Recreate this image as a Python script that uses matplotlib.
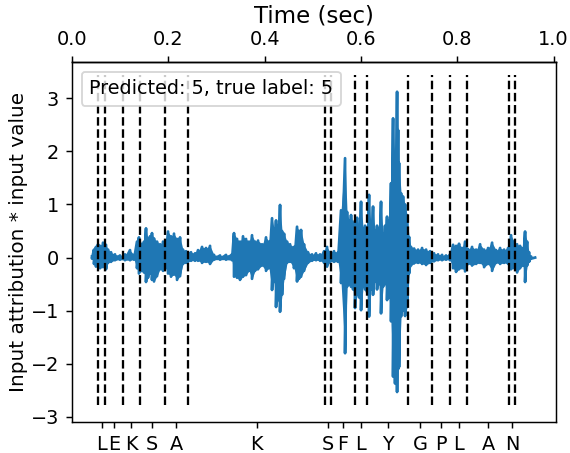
import numpy as np
import matplotlib
matplotlib.use("Agg")
import matplotlib.pyplot as plt
from matplotlib.lines import Line2D

# envelope of the attribution waveform (time in sec)
wave_t = [0.0415, 0.0457, 0.0498, 0.054, 0.0582, 0.0644, 0.0706, 0.0748, 0.081, 0.0893,
          0.0997, 0.110, 0.1205, 0.1288, 0.135, 0.139, 0.1454, 0.1495, 0.1537, 0.1578,
          0.162, 0.1661, 0.1703, 0.1765, 0.1828, 0.189, 0.1931, 0.1994, 0.2056, 0.2118,
          0.2181, 0.2243, 0.2305, 0.2368, 0.2409, 0.2471, 0.2555, 0.2617, 0.27, 0.2783,
          0.2866, 0.2949, 0.3074, 0.3198, 0.3323, 0.3364, 0.3427, 0.3489, 0.3551, 0.3614,
          0.3676, 0.3738, 0.3801, 0.3863, 0.3946, 0.4029, 0.4091, 0.4154, 0.4195, 0.4237,
          0.4278, 0.432, 0.4361, 0.4403, 0.4465, 0.4528, 0.461, 0.4673, 0.4714, 0.4756,
          0.4818, 0.4901, 0.4984, 0.5067, 0.515, 0.5234, 0.5296, 0.5358, 0.5441, 0.5524,
          0.5587, 0.567, 0.5711, 0.5753, 0.5794, 0.5836, 0.5877, 0.5919, 0.5961, 0.6002,
          0.6044, 0.6085, 0.6127, 0.6168, 0.621, 0.6251, 0.6293, 0.6334, 0.6376, 0.6417,
          0.6459, 0.65, 0.6542, 0.6584, 0.6625, 0.6667, 0.6708, 0.675, 0.6771, 0.6791,
          0.6833, 0.6874, 0.6916, 0.6957, 0.6999, 0.704, 0.7103, 0.7186, 0.7269, 0.7352,
          0.7435, 0.7518, 0.7601, 0.7684, 0.7767, 0.785, 0.7913, 0.7975, 0.8037, 0.81,
          0.8162, 0.8224, 0.8307, 0.839, 0.8474, 0.8557, 0.864, 0.8723, 0.8806, 0.8889,
          0.8972, 0.9055, 0.9117, 0.918, 0.9242, 0.9304, 0.9367, 0.9408, 0.945, 0.9491,
          0.9533, 0.9616]
wave_hi = [0.02, 0.15, 0.20, 0.25, 0.22, 0.28, 0.24, 0.15, 0.10, 0.06,
           0.04, 0.06, 0.14, 0.05, 0.30, 0.38, 0.25, 0.30, 0.55, 0.35,
           0.40, 0.46, 0.36, 0.30, 0.25, 0.30, 0.18, 0.49, 0.40, 0.45,
           0.35, 0.38, 0.15, 0.12, 0.10, 0.10, 0.08, 0.14, 0.20, 0.18,
           0.22, 0.05, 0.04, 0.05, 0.06, 0.46, 0.35, 0.30, 0.40, 0.35,
           0.30, 0.42, 0.30, 0.32, 0.25, 0.38, 0.30, 0.74, 0.55, 0.70,
           0.60, 0.99, 0.50, 0.45, 0.30, 0.25, 0.20, 0.58, 0.50, 0.52,
           0.25, 0.10, 0.06, 0.08, 0.06, 0.12, 0.20, 0.10, 0.12, 0.10,
           0.89, 1.87, 0.86, 0.70, 0.80, 0.65, 0.70, 0.75, 0.60, 1.05,
           0.55, 0.60, 0.50, 1.18, 0.55, 0.96, 0.50, 0.60, 0.55, 1.05,
           0.45, 0.60, 0.77, 0.70, 1.40, 2.62, 1.78, 3.12, 2.40, 1.78,
           1.21, 1.15, 1.00, 0.80, 0.39, 0.20, 0.17, 0.15, 0.18, 0.15,
           0.12, 0.08, 0.06, 0.05, 0.04, 0.06, 0.24, 0.22, 0.26, 0.18,
           0.30, 0.16, 0.20, 0.15, 0.25, 0.15, 0.18, 0.28, 0.14, 0.18,
           0.15, 0.18, 0.42, 0.30, 0.25, 0.22, 0.18, 0.49, 0.30, 0.10,
           0.02, 0.0]
wave_lo = [-0.02, -0.12, -0.17, -0.15, -0.20, -0.18, -0.22, -0.10, -0.08, -0.05,
           -0.04, -0.05, -0.05, -0.04, -0.20, -0.30, -0.25, -0.28, -0.46, -0.38,
           -0.30, -0.42, -0.45, -0.35, -0.22, -0.25, -0.18, -0.30, -0.36, -0.32,
           -0.42, -0.35, -0.12, -0.10, -0.08, -0.06, -0.06, -0.06, -0.10, -0.08,
           -0.12, -0.04, -0.04, -0.04, -0.05, -0.36, -0.38, -0.42, -0.36, -0.33,
           -0.25, -0.40, -0.25, -0.22, -0.15, -0.25, -0.20, -0.61, -0.45, -0.93,
           -0.80, -1.02, -0.70, -0.40, -0.10, -0.08, -0.20, -0.45, -0.40, -0.36,
           -0.25, -0.10, -0.06, -0.05, -0.06, -0.10, -0.17, -0.08, -0.08, -0.08,
           -0.48, -1.80, -0.55, -0.50, -0.55, -0.60, -0.95, -0.70, -0.75, -0.99,
           -0.55, -0.60, -0.65, -1.11, -0.60, -0.70, -0.45, -0.60, -0.50, -1.05,
           -0.55, -0.50, -0.80, -0.75, -1.20, -2.24, -2.37, -2.53, -2.10, -2.06,
           -1.11, -1.00, -1.10, -0.93, -0.30, -0.15, -0.11, -0.10, -0.12, -0.14,
           -0.10, -0.07, -0.05, -0.05, -0.04, -0.05, -0.20, -0.27, -0.22, -0.20,
           -0.26, -0.12, -0.15, -0.12, -0.10, -0.18, -0.12, -0.25, -0.10, -0.12,
           -0.10, -0.12, -0.22, -0.20, -0.28, -0.20, -0.15, -0.46, -0.15, -0.08,
           -0.02, 0.0]

# phoneme boundaries (sec) and the letters between them
bounds = [0.0546, 0.0685, 0.1053, 0.1412, 0.1925, 0.2409, 0.5254, 0.5373,
          0.5877, 0.6120, 0.6984, 0.7483, 0.7844, 0.8210, 0.9082, 0.9200]
letters = ["L", "E", "K", "S", "A", "K", "S", "F", "L", "Y", "G", "P", "L", "A", "N"]
time_ticks = [0.0, 0.2, 0.4, 0.6, 0.8, 1.0]
pred, true = 5, 5

t = np.array(wave_t)
hi = np.array(wave_hi)
lo = np.array(wave_lo)

DPI = 132
FS = 10.5
fig = plt.figure(figsize=(570 / DPI, 453 / DPI), dpi=DPI)
ax = fig.add_axes([72 / 570, 1 - 422.3 / 453, 484 / 570, 360.3 / 453])

# waveform: filled envelope plus a zigzag stroke through the peaks
ax.fill_between(t, lo, hi, color="#1f77b4", lw=0)
zz_t = np.repeat(t, 2)
zz_v = np.column_stack([hi, lo]).ravel()
ax.plot(zz_t, zz_v, color="#1f77b4", lw=1.5)

ax.vlines(bounds, lo.min() * 1.1, hi.max() * 1.1, colors="k",
          linestyles="--", lw=1.25)

b = np.array(bounds)
mids = (b[:-1] + b[1:]) / 2
ax.set_xticks(mids)
ax.set_xticklabels(letters, fontsize=FS)
ax.set_xlim(0, 1.005)
ax.set_ylim(-3.10, 3.68)
ax.set_yticks([-3, -2, -1, 0, 1, 2, 3])
ax.tick_params(labelsize=FS)
ax.set_ylabel("Input attribution * input value", fontsize=10.9)
ax.yaxis.set_label_coords(-0.09, 0.5)

top = ax.secondary_xaxis("top")
top.set_xticks(time_ticks)
top.set_xticklabels([f"{v:.1f}" for v in time_ticks], fontsize=FS)
top.set_xlabel("Time (sec)", fontsize=12.5)

h = Line2D([], [], linestyle="none", label=f"Predicted: {pred}, true label: {true}")
ax.legend(handles=[h], loc="upper left", handlelength=0, handletextpad=0, fontsize=FS)

fig.savefig("out.png", dpi=DPI)
